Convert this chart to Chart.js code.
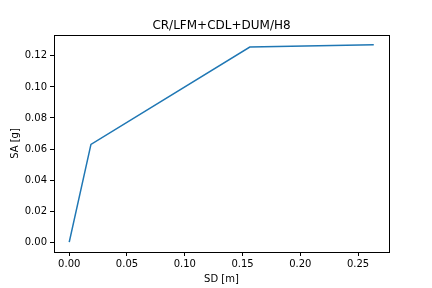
<!DOCTYPE html>
<html>
<head>
<meta charset="utf-8">
<script src="https://cdn.jsdelivr.net/npm/chart.js@4/dist/chart.umd.min.js"></script>
<style>
html,body{margin:0;padding:0;background:#fff;}
#wrap{width:432px;height:288px;}
</style>
</head>
<body>
<div id="wrap"><canvas id="c" width="432" height="288"></canvas></div>
<script>
const sdValues = [0, 0.0188, 0.1563, 0.2636];
const saValues = [0, 0.063, 0.1257, 0.1271];
const xTicks = [0, 0.05, 0.10, 0.15, 0.20, 0.25];
const yTicks = [0, 0.02, 0.04, 0.06, 0.08, 0.10, 0.12];
const titleText = 'CR/LFM+CDL+DUM/H8';
const xLabel = 'SD [m]';
const yLabel = 'SA [g]';

const font = 'DejaVu Sans';
const xMaxData = Math.max(...sdValues), xMinData = Math.min(...sdValues);
const yMaxData = Math.max(...saValues), yMinData = Math.min(...saValues);
const xm = (xMaxData - xMinData) * 0.05, ym = (yMaxData - yMinData) * 0.05;

const frame = {
  id: 'frame',
  afterDraw(chart) {
    const a = chart.chartArea, ctx = chart.ctx;
    ctx.save();
    ctx.strokeStyle = '#000';
    ctx.lineWidth = 1;
    ctx.strokeRect(Math.round(a.left) + 0.5, Math.round(a.top) + 0.5, Math.round(a.right - a.left), Math.round(a.bottom - a.top));
    ctx.fillStyle = '#000';
    ctx.font = '12px "' + font + '"';
    ctx.textAlign = 'center';
    ctx.textBaseline = 'alphabetic';
    ctx.fillText(titleText, (a.left + a.right) / 2, a.top - 6);
    ctx.restore();
  }
};

new Chart(document.getElementById('c'), {
  type: 'line',
  data: {
    datasets: [{
      data: sdValues.map((x, i) => ({x: x, y: saValues[i]})),
      borderColor: '#1f77b4',
      borderWidth: 1.5,
      pointRadius: 0,
      tension: 0,
      fill: false
    }]
  },
  options: {
    responsive: false,
    animation: false,
    devicePixelRatio: 1,
    layout: {padding: {left: 0, right: 43, top: 35, bottom: 0}},
    plugins: {
      legend: {display: false},
      tooltip: {enabled: false},
      title: {display: false}
    },
    scales: {
      x: {
        type: 'linear',
        min: xMinData - xm,
        max: xMaxData + xm,
        afterFit(s) { s.height = 36; },
        afterBuildTicks(s) { s.ticks = xTicks.map(v => ({value: v})); },
        grid: {display: true, drawOnChartArea: false, drawTicks: true, tickLength: 4, color: '#000'},
        border: {display: true, color: '#000'},
        ticks: {color: '#000', font: {family: font, size: 10}, padding: 2, maxRotation: 0,
          callback: v => Number(v).toFixed(2)},
        title: {display: true, text: xLabel, color: '#000', font: {family: font, size: 10}, padding: {top: 2, bottom: 3}}
      },
      y: {
        type: 'linear',
        min: yMinData - ym,
        max: yMaxData + ym,
        afterFit(s) { s.width = 54; },
        afterBuildTicks(s) { s.ticks = yTicks.map(v => ({value: v})); },
        grid: {display: true, drawOnChartArea: false, drawTicks: true, tickLength: 4, color: '#000'},
        border: {display: true, color: '#000'},
        ticks: {color: '#000', font: {family: font, size: 10}, padding: 3,
          callback: v => Number(v).toFixed(2)},
        title: {display: true, text: yLabel, color: '#000', font: {family: font, size: 10}, padding: {top: 9, bottom: 4}}
      }
    }
  },
  plugins: [frame]
});
</script>
</body>
</html>
